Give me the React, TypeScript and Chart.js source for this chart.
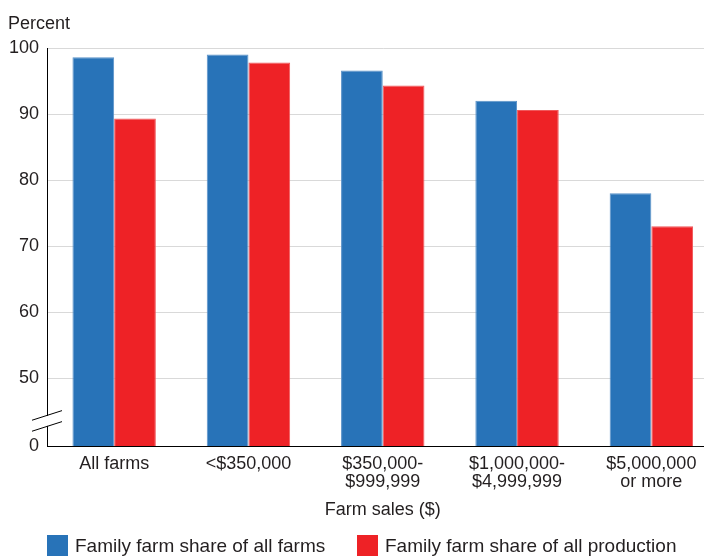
import { useEffect, useRef } from 'react';
import { Chart, registerables } from 'chart.js';

Chart.register(...registerables);

const categories = [
  ['All farms'],
  ['<$350,000'],
  ['$350,000-', '$999,999'],
  ['$1,000,000-', '$4,999,999'],
  ['$5,000,000', 'or more'],
];
const shareOfFarms = [98.6, 99.0, 96.6, 92.0, 78.0];
const shareOfProduction = [89.3, 97.8, 94.3, 90.6, 73.0];
const yTickValues = [50, 60, 70, 80, 90, 100];
const seriesLabels = ['Family farm share of all farms', 'Family farm share of all production'];
const yAxisLabel = 'Percent';
const xAxisLabel = 'Farm sales ($)';
const AXIS_FLOOR = 39.7; // value at the broken bottom of the axis, labelled "0"
const BREAK_VALUE = 43.5;

const FONT = '"Liberation Sans", Arial, Helvetica, sans-serif';
const TEXT = '#231f20';
const BLUE = '#2873b8';
const RED = '#ee2226';

const extras = {
  id: 'extras',
  afterDraw(chart: any) {
    const { ctx, chartArea, scales } = chart;
    const y = scales.y;
    ctx.save();
    ctx.font = `18px ${FONT}`;
    ctx.fillStyle = TEXT;
    ctx.textAlign = 'left';
    ctx.textBaseline = 'alphabetic';
    ctx.fillText(yAxisLabel, 8, 29);

    // axis break
    const ax = chartArea.left;
    const cy = y.getPixelForValue(BREAK_VALUE);
    ctx.fillStyle = '#ffffff';
    ctx.fillRect(ax - 2, cy - 5, 4, 10);
    ctx.strokeStyle = '#000000';
    ctx.lineWidth = 1;
    for (const off of [-5.5, 5.5]) {
      ctx.beginPath();
      ctx.moveTo(ax - 15, cy + off + 4.8);
      ctx.lineTo(ax + 15, cy + off - 4.8);
      ctx.stroke();
    }

    // legend
    const items = [
      { color: BLUE, label: seriesLabels[0], x: chartArea.left },
      { color: RED, label: seriesLabels[1], x: chartArea.left + 310 },
    ];
    ctx.font = `19px ${FONT}`;
    ctx.textBaseline = 'alphabetic';
    for (const it of items) {
      ctx.fillStyle = it.color;
      ctx.fillRect(it.x, 535, 21, 21);
      ctx.fillStyle = TEXT;
      ctx.fillText(it.label, it.x + 28, 552);
    }
    ctx.restore();
  },
};

export default function App() {
  const ref = useRef<HTMLCanvasElement | null>(null);
  useEffect(() => {
    if (!ref.current) return;
    document.body.style.overflow = 'hidden';
    const chart = new Chart(ref.current, {
      type: 'bar',
      data: {
        labels: categories as any,
        datasets: [
          {
            label: seriesLabels[0],
            data: shareOfFarms,
            backgroundColor: BLUE,
            borderColor: '#5a92c8',
            borderWidth: 1,
          },
          {
            label: seriesLabels[1],
            data: shareOfProduction,
            backgroundColor: RED,
            borderColor: '#f0585b',
            borderWidth: 1,
          },
        ],
      },
      options: {
        responsive: false,
        animation: false,
        layout: { padding: { top: 48, left: 0, right: 1.5, bottom: 0 } },
        font: { family: FONT, size: 18 } as any,
        datasets: { bar: { categoryPercentage: 0.621, barPercentage: 1.0 } } as any,
        plugins: {
          legend: { display: false },
          tooltip: { enabled: false },
          title: { display: false },
        },
        scales: {
          x: {
            grid: { display: false },
            border: { display: true, color: '#000000', width: 1 },
            ticks: {
              color: TEXT,
              font: { family: FONT, size: 18, lineHeight: 1.0 },
              padding: 1,
              maxRotation: 0,
              autoSkip: false,
            },
            title: {
              display: true,
              text: xAxisLabel,
              color: TEXT,
              font: { family: FONT, size: 18, lineHeight: 1.2 },
              padding: { top: 0, bottom: 35 },
            },
            afterFit: (scale: any) => {
              scale.height = 110;
            },
          },
          y: {
            min: AXIS_FLOOR,
            max: 100,
            grid: {
              color: (c: any) => (c.tick && c.tick.value === AXIS_FLOOR ? 'rgba(0,0,0,0)' : '#d9d9d9'),
              drawTicks: false,
              lineWidth: 1,
            },
            border: { display: true, color: '#000000', width: 1 },
            afterBuildTicks: (scale: any) => {
              scale.ticks = [AXIS_FLOOR, ...yTickValues].map((v) => ({ value: v }));
            },
            ticks: {
              color: TEXT,
              font: { family: FONT, size: 18 },
              padding: 8,
              callback: (v: any) => (v === AXIS_FLOOR ? '0' : String(v)),
            },
            afterFit: (scale: any) => {
              scale.width = 47;
            },
          },
        },
      },
      plugins: [extras],
    });
    return () => chart.destroy();
  }, []);
  return (
    <div style={{ position: 'fixed', left: 0, top: 0, width: 720, height: 556, background: '#fff' }}>
      <canvas ref={ref} width={720} height={556} style={{ display: 'block' }} />
    </div>
  );
}
